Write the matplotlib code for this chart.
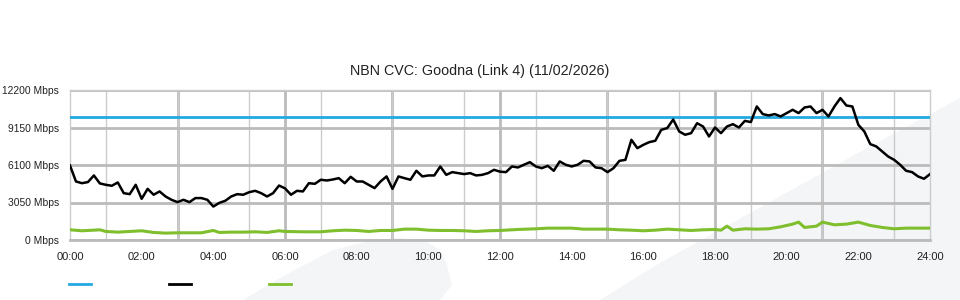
import numpy as np
import matplotlib
matplotlib.use("Agg")
import matplotlib.pyplot as plt
from matplotlib.patches import Polygon
from matplotlib.lines import Line2D

plt.rcParams['font.family'] = ['Liberation Sans', 'DejaVu Sans']

title = "NBN CVC: Goodna (Link 4) (11/02/2026)"

# capacity of the link (Mbps)
capacity = 10000

# traffic, one reading every 10 minutes from 00:00 to 24:00
traffic_step_min = 10
traffic = [
    6060, 4760, 4620, 4710, 5250, 4600,
    4490, 4410, 4680, 3810, 3730, 4490,
    3350, 4160, 3680, 3950, 3540, 3270,
    3080, 3270, 3080, 3410, 3410, 3270,
    2720, 3020, 3190, 3540, 3730, 3680,
    3890, 4000, 3810, 3540, 3810, 4430,
    4200, 3680, 4000, 3950, 4620, 4570,
    4900, 4840, 4920, 5030, 4620, 5140,
    4760, 4760, 4490, 4220, 4760, 5170,
    4160, 5170, 5030, 4900, 5630, 5170,
    5250, 5250, 5980, 5300, 5520, 5440,
    5360, 5440, 5250, 5300, 5440, 5710,
    5560, 5520, 5980, 5900, 6120, 6330,
    5980, 5840, 6030, 5630, 6390, 6120,
    5980, 6120, 6440, 6390, 5900, 5840,
    5520, 5840, 6440, 6520, 8150, 7470,
    7740, 7960, 8070, 8960, 9100, 9800,
    8830, 8560, 8690, 9500, 9230, 8420,
    9150, 8690, 9230, 9420, 9150, 9690,
    9590, 10860, 10240, 10130, 10240, 10050,
    10320, 10590, 10320, 10780, 10860, 10320,
    10590, 10050, 10860, 11540, 10940, 10860,
    9370, 8830, 7800, 7610, 7200, 6790,
    6520, 6120, 5630, 5520, 5170, 4980,
    5360,
]

# second series (green)
green_times = [
    "00:00", "00:20", "00:40", "00:50", "01:00", "01:20", "01:40", "02:00",
    "02:20", "02:40", "03:00", "03:20", "03:40", "04:00", "04:10", "04:30",
    "04:50", "05:10", "05:30", "05:50", "06:00", "06:30", "07:00", "07:20",
    "07:40", "08:00", "08:20", "08:40", "09:00", "09:20", "09:40", "10:00",
    "10:20", "10:40", "11:00", "11:20", "11:40", "12:00", "12:30", "13:00",
    "13:20", "13:40", "14:00", "14:20", "14:40", "15:00", "15:20", "15:40",
    "16:00", "16:20", "16:40", "17:00", "17:20", "17:40", "18:00", "18:10",
    "18:20", "18:30", "18:50", "19:10", "19:30", "19:50", "20:10", "20:20",
    "20:30", "20:50", "21:00", "21:20", "21:40", "22:00", "22:20", "22:40",
    "23:00", "23:20", "23:40", "24:00",
]
green_vals = [
    830, 750, 800, 830, 694, 640, 694, 750,
    613, 560, 586, 586, 586, 775, 613, 640,
    640, 667, 613, 750, 694, 667, 667, 750,
    800, 775, 694, 775, 775, 884, 884, 800,
    775, 775, 750, 694, 750, 775, 857, 911,
    965, 965, 965, 884, 884, 884, 830, 800,
    750, 800, 884, 830, 775, 830, 857, 800,
    1128, 800, 911, 884, 911, 1074, 1291, 1453,
    1020, 1128, 1453, 1236, 1291, 1453, 1182, 1020,
    911, 965, 965, 965,
]

y_ticks = [0, 3050, 6100, 9150, 12200]
x_tick_hours = list(range(0, 25, 2))

blue = "#22a9e1"
green = "#7fbf2e"
txt = "#222222"

t_traffic = np.arange(len(traffic)) * traffic_step_min / 60.0
t_green = [int(s[:2]) + int(s[3:]) / 60.0 for s in green_times]

fig = plt.figure(figsize=(9.6, 3.0), dpi=100, facecolor="white")

# faint background watermark shapes
wm = "#f4f5f7"
fig.patches.append(Polygon(
    [(600 / 960, 0), (660 / 960, 1 - 263 / 300), (860 / 960, 1 - 152 / 300),
     (960 / 960, 1 - 98 / 300), (1, 0)],
    closed=True, transform=fig.transFigure, facecolor=wm, edgecolor="none", zorder=-5))
fig.patches.append(Polygon(
    [(243 / 960, 0), (280 / 960, 1 - 278 / 300), (333 / 960, 1 - 250 / 300),
     (370 / 960, 1 - 241 / 300), (400 / 960, 1 - 238 / 300), (425 / 960, 1 - 241 / 300),
     (440 / 960, 1 - 250 / 300), (447 / 960, 1 - 265 / 300), (452 / 960, 1 - 285 / 300),
     (440 / 960, 0)],
    closed=True, transform=fig.transFigure, facecolor=wm, edgecolor="none", zorder=-5))

ax = fig.add_axes([70 / 960, 1 - 240 / 300, 860 / 960, 150 / 300])
ax.set_zorder(1)
ax.set_facecolor("none")
ax.set_xlim(0, 24)
ax.set_ylim(0, 12200)

# grid: light line every hour, darker every 3 hours
ax.set_xticks(x_tick_hours)
ax.set_xticklabels(["%02d:00" % h for h in x_tick_hours])
ax.set_xticks(range(0, 25), minor=True)
ax.grid(True, axis="x", which="minor", color="#cccccc", linewidth=1.0, zorder=1)
for h in range(3, 24, 3):
    ax.axvline(h, color="#bbbbbb", linewidth=2.0, zorder=1)
ax.set_yticks(y_ticks)
ax.set_yticklabels(["%d Mbps" % v for v in y_ticks])
ax.grid(True, axis="y", color="#bbbbbb", linewidth=2.0, zorder=1)

for s in ax.spines.values():
    s.set_color("#cccccc")
    s.set_linewidth(1.0)
ax.spines["bottom"].set_color("#bbbbbb")
ax.spines["bottom"].set_linewidth(2.0)

ax.tick_params(axis="both", which="both", length=0, colors=txt)
ax.tick_params(axis="x", labelsize=8, pad=9)
ax.tick_params(axis="y", labelsize=7.4, pad=8)

ax.axhline(capacity, color=blue, linewidth=2.0, zorder=3)
ax.plot(t_traffic, traffic, color="black", linewidth=1.8, zorder=4)
ax.plot(t_green, green_vals, color=green, linewidth=2.2, zorder=3)

fig.text(0.5, 1 - 71 / 300, title, fontsize=10.3, color=txt, ha="center", va="center")

handles = [Line2D([], [], color=blue, linewidth=2),
           Line2D([], [], color="black", linewidth=2),
           Line2D([], [], color=green, linewidth=2)]
fig.legend(handles=handles, labels=["", "", ""], ncol=3, frameon=False,
           loc="center left", bbox_to_anchor=(69 / 960, 1 - 285 / 300),
           fontsize=8, handlelength=2.0, handletextpad=0.8, columnspacing=6.2,
           borderpad=0, borderaxespad=0)

fig.savefig("out.png", dpi=100, facecolor="white")
